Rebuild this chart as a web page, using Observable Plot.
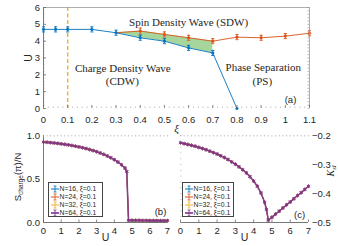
<!DOCTYPE html>
<html><head><meta charset="utf-8">
<script src="https://cdn.jsdelivr.net/npm/d3@7"></script>
<script src="https://cdn.jsdelivr.net/npm/@observablehq/plot@0.6"></script>
<style>
body{margin:0;background:#fff;}
#wrap{position:relative;width:338px;height:246px;overflow:hidden;background:#fff;}
#wrap svg{position:absolute;left:0;top:0;}
</style></head><body><div id="wrap"></div>
<script>
// ---------- panel (a) data ----------
const xiBlue   = [0, 0.05, 0.1, 0.2, 0.3, 0.4, 0.5, 0.6, 0.7, 0.8];
const uBlue    = [4.7, 4.7, 4.7, 4.7, 4.5, 4.2, 4.0, 3.6, 3.3, 0];
const errBlue  = [0.15, 0.15, 0.15, 0.15, 0.15, 0.15, 0.15, 0.15, 0.15, 0];
const xiOrange = [0.3, 0.4, 0.5, 0.6, 0.7, 0.8, 0.9, 1.0, 1.1];
const uOrange  = [4.5, 4.6, 4.4, 4.2, 4.0, 4.24, 4.2, 4.3, 4.47];
const errOrange= [0, 0.18, 0.15, 0.15, 0.15, 0.15, 0.15, 0.15, 0.15];
const xiCDW    = [0.1];
const xTicksA  = [0, 0.1, 0.2, 0.3, 0.4, 0.5, 0.6, 0.7, 0.8, 0.9, 1, 1.1];
const yTicksA  = [0, 1, 2, 3, 4, 5, 6];

// ---------- panels (b),(c) data ----------
const seriesN = ["N=16, ξ=0.1", "N=24, ξ=0.1", "N=32, ξ=0.1", "N=64, ξ=0.1"];
const uGrid = [0,0.2,0.4,0.6,0.8,1.0,1.2,1.4,1.6,1.8,2.0,2.2,2.4,2.6,2.8,3.0,3.2,3.4,3.6,3.8,4.0,4.2,4.4,4.6,4.7,4.8,
               5.0,5.2,5.4,5.6,5.8,6.0,6.2,6.4,6.6,6.8,7.0];
const sCharge = [0.925,0.922,0.918,0.914,0.909,0.904,0.898,0.892,0.885,0.877,0.869,0.860,0.850,0.839,0.827,0.814,0.799,
                 0.783,0.765,0.745,0.722,0.695,0.664,0.625,0.585,0.025,
                 0.025,0.024,0.024,0.023,0.023,0.022,0.022,0.022,0.021,0.021,0.021];
const kinetic = [-0.225,-0.228,-0.231,-0.234,-0.237,-0.241,-0.245,-0.249,-0.254,-0.259,-0.264,-0.270,-0.276,-0.283,-0.291,
                 -0.299,-0.308,-0.318,-0.329,-0.342,-0.357,-0.375,-0.398,-0.430,-0.455,-0.492,
                 -0.482,-0.471,-0.461,-0.450,-0.439,-0.429,-0.418,-0.407,-0.397,-0.386,-0.375];
const xTicksBC = [0, 1, 2, 3, 4, 5, 6, 7];
const yTicksB  = [0, 0.5, 1];
const yTicksC  = [-0.5, -0.4, -0.3, -0.2];

// ---------- styles ----------
const W = 338, H = 246;
const sans = '"Liberation Sans", Arial, Helvetica, sans-serif';
const serif = '"Liberation Serif", "Times New Roman", serif';
const ink = "#262626";
const colors = ["#0072BD", "#D95319", "#EDB120", "#7E2F8E"];
const green = "#a6d69c";
const capSymbol = {draw(ctx, size) { const r = Math.sqrt(size / Math.PI); ctx.moveTo(-r, 0); ctx.lineTo(r, 0); }};
const baseStyle = {background: "transparent", fontFamily: sans, fontSize: "9.5px", color: ink, overflow: "visible"};

const blueA = xiBlue.map((xi, i) => ({xi, u: uBlue[i], e: errBlue[i]}));
const orangeA = xiOrange.map((xi, i) => ({xi, u: uOrange[i], e: errOrange[i]}));
const fillA = xiOrange.filter(xi => xiBlue.includes(xi) && uBlue[xiBlue.indexOf(xi)] > 0)
  .map(xi => ({xi, lo: uBlue[xiBlue.indexOf(xi)], hi: uOrange[xiOrange.indexOf(xi)]}));
const caps = arr => arr.flatMap(d => d.e > 0 ? [{xi: d.xi, y: d.u - d.e}, {xi: d.xi, y: d.u + d.e}] : []);
const range = (a, b, s) => d3.range(Math.round((b - a) / s) + 1).map(i => +(a + i * s).toFixed(4));

function errMarks(arr, color) {
  return [
    Plot.ruleX(arr.filter(d => d.e > 0), {x: "xi", y1: d => d.u - d.e, y2: d => d.u + d.e, stroke: color, strokeWidth: 0.9}),
    Plot.dot(caps(arr), {x: "xi", y: "y", symbol: capSymbol, r: 1.6, stroke: color, strokeWidth: 0.9}),
    Plot.dot(arr, {x: "xi", y: "u", r: 1.3, fill: color, stroke: color, strokeWidth: 0.5})
  ];
}

// ---------- panel (a) ----------
const mA = {l: 43, r: 29, t: 7, b: 138};
const iwA = W - mA.l - mA.r, ihA = H - mA.t - mA.b;
const xDomA = [0, 1.1], yDomA = [0, 6];
const plotA = Plot.plot({
  width: W, height: H, marginLeft: mA.l, marginRight: mA.r, marginTop: mA.t, marginBottom: mA.b,
  x: {domain: xDomA, axis: null, label: null}, y: {domain: yDomA, axis: null, label: null},
  style: baseStyle,
  marks: [
    Plot.areaY(fillA, {x: "xi", y1: "lo", y2: "hi", fill: green}),
    Plot.ruleX(xiCDW, {stroke: colors[2], strokeWidth: 1.4, strokeDasharray: "4,2.5"}),
    Plot.line(blueA, {x: "xi", y: "u", stroke: colors[0], strokeWidth: 0.9}),
    Plot.line(orangeA, {x: "xi", y: "u", stroke: colors[1], strokeWidth: 0.9}),
    ...errMarks(orangeA.slice(1), colors[1]),
    ...errMarks(blueA, colors[0]),
    // frame
    Plot.ruleX([xDomA[0]], {stroke: "#555", strokeWidth: 0.8}),
    Plot.ruleX([xDomA[1]], {stroke: "#999", strokeWidth: 0.8}),
    Plot.ruleY([yDomA[1]], {stroke: "#999", strokeWidth: 0.8}),
    // ticks (inward)
    Plot.tickX(xTicksA, {x: d => d, insetTop: ihA - 3, stroke: "#555", strokeWidth: 0.7}),
    Plot.tickX(range(0, 1.1, 0.02), {x: d => d, insetTop: ihA - 1.5, stroke: "#999", strokeWidth: 0.6}),
    Plot.tickY(yTicksA, {y: d => d, insetRight: iwA - 3, stroke: "#555", strokeWidth: 0.7}),
    Plot.tickY(range(0, 6, 0.2), {y: d => d, insetRight: iwA - 1.5, stroke: "#888", strokeWidth: 0.6}),
    Plot.tickY(range(0, 6, 0.2), {y: d => d, insetLeft: iwA - 1.5, stroke: "#888", strokeWidth: 0.6}),
    Plot.axisX(xTicksA, {tickSize: 0, tickPadding: 7.5, fill: ink, fontSize: 9.5, label: null, tickFormat: d => String(d)}),
    Plot.axisY(yTicksA, {tickSize: 0, tickPadding: 3.5, fill: ink, fontSize: 9.5, label: null}),
    Plot.text(["U"], {frameAnchor: "left", dx: -15, rotate: -90, textAnchor: "middle", lineAnchor: "middle", fontSize: 10.5, fill: ink}),
    Plot.text(["ξ"], {frameAnchor: "bottom", dy: 20, textAnchor: "middle", lineAnchor: "middle", fontSize: 11, fontStyle: "italic", fontFamily: serif, fill: ink}),
    // annotations
    Plot.text(["Spin Density Wave (SDW)"], {x: 0.6, y: 5.13, textAnchor: "middle", lineAnchor: "middle", fontFamily: serif, fontSize: 11, fill: ink}),
    Plot.text(["Charge Density Wave"], {x: 0.328, y: 2.4, textAnchor: "middle", lineAnchor: "middle", fontFamily: serif, fontSize: 11, fill: ink}),
    Plot.text(["(CDW)"], {x: 0.326, y: 1.6, textAnchor: "middle", lineAnchor: "middle", fontFamily: serif, fontSize: 11, fill: ink}),
    Plot.text(["Phase Separation"], {x: 0.909, y: 2.42, textAnchor: "middle", lineAnchor: "middle", fontFamily: serif, fontSize: 11, fill: ink}),
    Plot.text(["(PS)"], {x: 0.905, y: 1.6, textAnchor: "middle", lineAnchor: "middle", fontFamily: serif, fontSize: 11, fill: ink}),
    Plot.text(["(a)"], {frameAnchor: "bottom-right", dx: -19, dy: -9, textAnchor: "middle", lineAnchor: "middle", fontSize: 9.5, fill: ink})
  ]
});

// ---------- panels (b),(c) ----------
const tidy = seriesN.flatMap((name, si) => uGrid.map((U, i) => ({name, si, U, s: sCharge[i], k: kinetic[i]})));
function seriesMarks(yKey) {
  return seriesN.flatMap((name, si) => {
    const d = tidy.filter(t => t.si === si);
    const c = colors[si], w = si === 3 ? 1.6 : 1;
    return [
      Plot.line(d, {x: "U", y: yKey, stroke: c, strokeWidth: w, strokeOpacity: si === 3 ? 0.85 : 1}),
      Plot.dot(d, {x: "U", y: yKey, symbol: "asterisk", r: si === 3 ? 1.8 : 1.5, stroke: c, strokeWidth: 0.8})
    ];
  });
}

const mB = {l: 43, r: 171, t: 135, b: 24};
const iwB = W - mB.l - mB.r, ihB = H - mB.t - mB.b;
const xDomBC = [0, 7], yDomB = [0, 1], yDomC = [-0.5, -0.2];
const plotB = Plot.plot({
  width: W, height: H, marginLeft: mB.l, marginRight: mB.r, marginTop: mB.t, marginBottom: mB.b,
  x: {domain: xDomBC, axis: null, label: null}, y: {domain: yDomB, axis: null, label: null},
  style: baseStyle,
  marks: [
    ...seriesMarks("s"),
    Plot.ruleX([xDomBC[0]], {stroke: "#555", strokeWidth: 0.8}),
    Plot.ruleY([yDomB[0]], {stroke: "#555", strokeWidth: 0.8}),
    Plot.tickX(range(0, 7, 0.2), {x: d => d, insetBottom: ihB - 1.5, stroke: "#999", strokeWidth: 0.6}),
    Plot.tickX(xTicksBC, {x: d => d, insetTop: ihB - 2.5, stroke: "#555", strokeWidth: 0.7}),
    Plot.axisX(xTicksBC, {tickSize: 0, tickPadding: 5, fill: ink, fontSize: 9.5, label: null}),
    Plot.axisY(yTicksB, {tickSize: 0, tickPadding: 3.5, fill: ink, fontSize: 9.5, label: null}),
    Plot.text(["U"], {frameAnchor: "bottom", dy: 15, textAnchor: "middle", lineAnchor: "middle", fontSize: 10.5, fill: ink}),
    Plot.text(["S(π)/N"], {frameAnchor: "left", dx: -26, dy: -2, rotate: -90, textAnchor: "middle", lineAnchor: "middle", fontSize: 9.5, fill: ink}),
    Plot.text(["(b)"], {frameAnchor: "bottom-right", dx: -7, dy: -11, textAnchor: "middle", lineAnchor: "middle", fontSize: 9.5, fill: ink})
  ]
});

const mC = {l: 180, r: 30, t: 135, b: 24};
const iwC = W - mC.l - mC.r, ihC = H - mC.t - mC.b;
const plotC = Plot.plot({
  width: W, height: H, marginLeft: mC.l, marginRight: mC.r, marginTop: mC.t, marginBottom: mC.b,
  x: {domain: xDomBC, axis: null, label: null}, y: {domain: yDomC, axis: null, label: null},
  style: baseStyle,
  marks: [
    ...seriesMarks("k"),
    Plot.ruleY([yDomC[0]], {stroke: "#555", strokeWidth: 0.8}),
    Plot.tickX(range(0, 7, 0.2), {x: d => d, insetBottom: ihC - 1.5, stroke: "#999", strokeWidth: 0.6}),
    Plot.tickY(range(-0.5, -0.2, 0.02), {y: d => d, insetRight: iwC - 1.5, stroke: "#aaa", strokeWidth: 0.6}),
    Plot.tickX(xTicksBC, {x: d => d, insetTop: ihC - 2.5, stroke: "#555", strokeWidth: 0.7}),
    Plot.axisX(xTicksBC, {tickSize: 0, tickPadding: 5, fill: ink, fontSize: 9.5, label: null}),
    Plot.axisY(yTicksC, {anchor: "right", tickSize: 0, tickPadding: 3.5, fill: ink, fontSize: 9.5, label: null}),
    Plot.text(["U"], {frameAnchor: "bottom", dy: 15, textAnchor: "middle", lineAnchor: "middle", fontSize: 10.5, fill: ink}),
    Plot.text(["K"], {frameAnchor: "right", dx: 22, dy: -8, rotate: -90, textAnchor: "middle", lineAnchor: "middle", fontSize: 10, fontStyle: "italic", fontFamily: serif, fill: ink}),
    Plot.text(["(c)"], {frameAnchor: "bottom-right", dx: -9, dy: -8, textAnchor: "middle", lineAnchor: "middle", fontSize: 9.5, fill: ink})
  ]
});

const wrap = document.getElementById("wrap");
wrap.append(plotA, plotB, plotC);

// subscripts in axis labels
function subscript(svg, base, sub, rest) {
  for (const t of svg.querySelectorAll("text")) {
    if (t.textContent === base + rest || t.textContent === base) {
      t.textContent = "";
      const ns = "http://www.w3.org/2000/svg";
      const a = document.createElementNS(ns, "tspan"); a.textContent = base;
      const b = document.createElementNS(ns, "tspan"); b.textContent = sub; b.setAttribute("dy", "2.5"); b.setAttribute("font-size", "6.5");
      t.append(a, b);
      if (rest) { const c = document.createElementNS(ns, "tspan"); c.textContent = rest; c.setAttribute("dy", "-2.5"); t.append(c); }
      break;
    }
  }
}
subscript(plotB, "S", "charge", "(π)/N");
subscript(plotC, "K", "sl", "");

// legends
function legend(left, top, width) {
  const div = document.createElement("div");
  div.style.cssText = `position:absolute;left:${left}px;top:${top}px;width:${width}px;height:35px;border:0.8px solid #444;background:#fff;font:6.8px ${sans};color:${ink};box-sizing:border-box;`;
  seriesN.forEach((name, i) => {
    const row = document.createElement("div");
    row.style.cssText = `position:absolute;left:1.5px;top:${1.5 + i * 8.1}px;height:8px;line-height:8px;white-space:nowrap;`;
    const w = i === 3 ? 1.6 : 1;
    row.innerHTML = `<svg width="8" height="8" style="position:static;vertical-align:top"><line x1="0" x2="8" y1="4" y2="4" stroke="${colors[i]}" stroke-width="${w}"/><line x1="4" x2="4" y1="1" y2="7" stroke="${colors[i]}" stroke-width="0.8"/><line x1="2.5" x2="5.5" y1="1" y2="1" stroke="${colors[i]}" stroke-width="0.8"/><line x1="2.5" x2="5.5" y1="7" y2="7" stroke="${colors[i]}" stroke-width="0.8"/></svg><span style="margin-left:1px">${name}</span>`;
    div.append(row);
  });
  wrap.append(div);
}
legend(48, 182, 55);
legend(182, 182, 52);
</script></body></html>
